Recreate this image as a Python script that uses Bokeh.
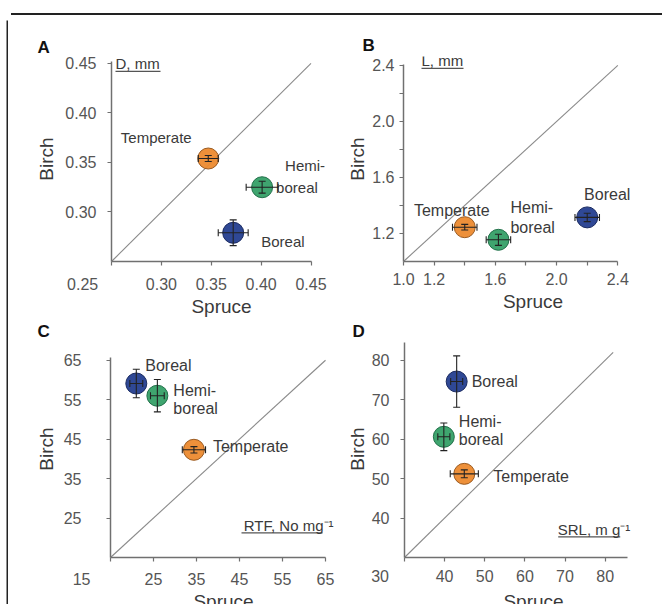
from bokeh.plotting import figure
from bokeh.models import (Range1d, FixedTicker, Label, Whisker, ColumnDataSource,
                          TeeHead, PrintfTickFormatter, Spacer, Div)
from bokeh.layouts import row, column
from bokeh.embed import file_html
from bokeh.resources import INLINE

# ---------------- data ----------------
regions = ["Boreal", "Hemi-boreal", "Temperate"]

# Panel A: root diameter D, mm
a_spruce = [0.372, 0.401, 0.347]
a_spruce_err = [0.015, 0.016, 0.010]
a_birch = [0.279, 0.325, 0.354]
a_birch_err = [0.013, 0.006, 0.003]
a_xticks = [0.25, 0.30, 0.35, 0.40, 0.45]
a_yticks = [0.30, 0.35, 0.40, 0.45]

# Panel B: root length L, mm
b_spruce = [2.20, 1.62, 1.40]
b_spruce_err = [0.08, 0.08, 0.08]
b_birch = [1.315, 1.155, 1.245]
b_birch_err = [0.03, 0.04, 0.02]
b_xticks = [1.0, 1.2, 1.6, 2.0, 2.4]
b_xminor = [1.4, 1.8, 2.2]
b_yticks = [1.2, 1.6, 2.0, 2.4]
b_yminor = [1.4, 1.8, 2.2]

# Panel C: root tip frequency RTF, No mg-1
c_spruce = [21.0, 25.9, 34.4]
c_spruce_err = [1.5, 1.6, 2.7]
c_birch = [59.1, 56.0, 42.3]
c_birch_err = [3.6, 4.1, 0.8]
c_xticks = [15, 25, 35, 45, 55, 65]
c_yticks = [25, 35, 45, 55, 65]

# Panel D: specific root length SRL, m g-1
d_spruce = [43.0, 39.8, 44.9]
d_spruce_err = [1.5, 1.5, 3.5]
d_birch = [74.6, 60.6, 51.2]
d_birch_err = [6.5, 3.5, 1.0]
d_xticks = [30, 40, 50, 60, 70, 80]
d_yticks = [40, 50, 60, 70, 80]

# ---------------- styles ----------------
FONT = "Liberation Sans"
COLORS = {"Boreal": "#243E8F", "Hemi-boreal": "#35A067", "Temperate": "#EC8A2F"}
EDGES = {"Boreal": "#1A2A60", "Hemi-boreal": "#22704A", "Temperate": "#9A5A20"}
NBSP = "\u00a0"


def make_panel(cfg):
    w, h = cfg["size"]
    bl, br, bt, bb = cfg["borders"]
    x0, xa = cfg["xaxis"]          # axis start / end values
    y0, ya = cfg["yaxis"]
    ppx, ppy = cfg["ppu"]          # pixels per data unit
    x1 = x0 + (w - bl - br) / ppx
    y1 = y0 + (h - bt - bb) / ppy
    p = figure(width=w, height=h, x_range=Range1d(x0, x1), y_range=Range1d(y0, y1),
               output_backend="svg", toolbar_location=None, tools="",
               min_border_left=bl, min_border_right=br,
               min_border_top=bt, min_border_bottom=bb)
    p.outline_line_color = None
    p.grid.visible = False
    p.border_fill_color = "white"

    # panel letter as title
    ldx, lso = cfg["letter_pos"]
    p.title.text = cfg["letter"]
    p.title.align = "left"
    p.title.offset = ldx
    p.title.standoff = lso
    p.title.text_font = FONT
    p.title.text_font_size = "17px"
    p.title.text_font_style = "bold"
    p.title.text_color = "#111111"

    for ax, ticks, minor, so, lso2, lab, bnd in (
            (p.xaxis[0], cfg["xticks"], cfg.get("xminor", []), cfg["xso"], cfg["xlso"], "Spruce", (x0, xa)),
            (p.yaxis[0], cfg["yticks"], cfg.get("yminor", []), cfg["yso"], cfg["ylso"], "Birch", (y0, ya))):
        ax.bounds = bnd
        ax.ticker = FixedTicker(ticks=ticks, minor_ticks=minor)
        ax.formatter = PrintfTickFormatter(format=cfg["fmt"])
        ax.axis_line_color = "#707070"
        ax.axis_line_width = 1.5
        ax.major_tick_line_color = "#707070"
        ax.minor_tick_line_color = "#707070"
        ax.major_tick_line_width = 1.2
        ax.minor_tick_line_width = 1.2
        ax.major_tick_in = 0
        ax.major_tick_out = 4
        ax.minor_tick_in = 0
        ax.minor_tick_out = 4
        ax.major_label_standoff = int(so)
        ax.major_label_text_font = FONT
        ax.major_label_text_font_size = "16px"
        ax.major_label_text_color = "#555555"
        ax.axis_label = lab
        ax.axis_label_standoff = int(lso2)
        ax.axis_label_text_font = FONT
        ax.axis_label_text_font_size = "19px"
        ax.axis_label_text_font_style = "normal"
        ax.axis_label_text_color = "#3a3a3a"

    # shared origin label, shifted left of the corner
    if cfg.get("corner"):
        cval, ctext, npad = cfg["corner"]
        p.xaxis[0].major_label_overrides = {cval: ctext + NBSP * npad}

    # 1:1 line
    p.line([x0, cfg["diag"]], [y0, cfg["diag"]], line_color="#8a8a8a", line_width=1.1)

    xs, xe, ys, ye = cfg["data"]
    src = ColumnDataSource(dict(
        x=xs, y=ys,
        xl=[a - b for a, b in zip(xs, xe)], xu=[a + b for a, b in zip(xs, xe)],
        yl=[a - b for a, b in zip(ys, ye)], yu=[a + b for a, b in zip(ys, ye)],
        fill=[COLORS[r] for r in regions], edge=[EDGES[r] for r in regions],
        name=regions))
    p.scatter("x", "y", source=src, size=21, fill_color="fill", line_color="edge",
              line_width=1, fill_alpha=0.95)
    for dim, base, lo, hi in (("width", "y", "xl", "xu"), ("height", "x", "yl", "yu")):
        p.add_layout(Whisker(source=src, base=base, lower=lo, upper=hi, dimension=dim,
                             line_color="#222222", line_width=1.1, level="overlay",
                             upper_head=TeeHead(size=7, line_color="#222222", line_width=1.1),
                             lower_head=TeeHead(size=7, line_color="#222222", line_width=1.1)))

    # category labels
    for i, r in enumerate(regions):
        for text, dx, dy, align in cfg["labels"][r]:
            p.add_layout(Label(x=xs[i], y=ys[i], x_offset=dx, y_offset=dy, text=text,
                               text_align=align, text_baseline="middle",
                               text_font=FONT, text_font_size=cfg["lab_fs"],
                               text_color="#3a3a3a"))

    # variable name, underlined
    ux, uy, utext, udx, udy, ualign, ul0, ul1, uly = cfg["unit"]
    p.add_layout(Label(x=ux, y=uy, x_offset=udx, y_offset=udy, text=utext,
                       text_align=ualign, text_baseline="middle", text_font=FONT,
                       text_font_size="15px", text_color="#3a3a3a"))
    p.segment(x0=[ux + (udx + ul0) / ppx], y0=[uy + (udy + uly) / ppy],
              x1=[ux + (udx + ul1) / ppx], y1=[uy + (udy + uly) / ppy],
              line_color="#555555", line_width=1.3)
    return p


def rule(w, h):
    f = figure(width=w, height=h, toolbar_location=None, tools="", output_backend="svg",
               title=None, min_border=0, x_axis_location=None, y_axis_location=None,
               x_range=Range1d(0, 1), y_range=Range1d(0, 1))
    f.background_fill_color = "#222222"
    f.border_fill_color = "#222222"
    f.outline_line_color = None
    f.grid.visible = False
    return f


pa = make_panel(dict(
    size=(323, 299), borders=(103, 0, 36, 56), xaxis=(0.25, 0.45), yaxis=(0.25, 0.452),
    ppu=(997.5, 1000.0),
    xticks=a_xticks, yticks=a_yticks, fmt="%.2f", xso=10, xlso=0, yso=11, ylso=5,
    diag=0.45, data=(a_spruce, a_spruce_err, a_birch, a_birch_err), lab_fs="15px",
    labels={"Boreal": [("Boreal", 28, -9, "left")],
            "Hemi-boreal": [("Hemi-", 23, 22, "left"), ("boreal", 14, 0, "left")],
            "Temperate": [("Temperate", -52, 21, "center")]},
    letter="A", letter_pos=(-74, 0), corner=(0.25, "0.25", 13),
    unit=(0.25, 0.45, "D, mm", 4, 0, "left", 0, 45, -8)))

pb = make_panel(dict(
    size=(331, 299), borders=(72, 0, 36, 56), xaxis=(1.0, 2.4), yaxis=(1.0, 2.41),
    ppu=(153.1, 141.4),
    xticks=b_xticks, xminor=b_xminor, yticks=b_yticks, yminor=b_yminor, fmt="%.1f",
    xso=7, xlso=3, yso=5, ylso=1, diag=2.4, lab_fs="16px",
    data=(b_spruce, b_spruce_err, b_birch, b_birch_err),
    labels={"Boreal": [("Boreal", 20, 23, "center")],
            "Hemi-boreal": [("Hemi-", 12, 32, "left"), ("boreal", 12, 12, "left")],
            "Temperate": [("Temperate", -13, 17, "center")]},
    letter="B", letter_pos=(-41, 4), corner=None,
    unit=(1.0, 2.4, "L, mm", 18, 5, "left", 0, 42, -8)))

pc = make_panel(dict(
    size=(328, 295), borders=(102, 0, 20, 55), xaxis=(15, 65), yaxis=(15, 65.6),
    ppu=(4.3, 4.0),
    xticks=c_xticks, yticks=c_yticks, fmt="%d", xso=9, xlso=0, yso=25, ylso=4,
    diag=65, data=(c_spruce, c_spruce_err, c_birch, c_birch_err), lab_fs="16px",
    labels={"Boreal": [("Boreal", 9, 18, "left")],
            "Hemi-boreal": [("Hemi-", 16, 5, "left"), ("boreal", 16, -13, "left")],
            "Temperate": [("Temperate", 19, 3, "left")]},
    letter="C", letter_pos=(-73, 0), corner=(15, "15", 13),
    unit=(65, 15, "RTF, No mg\u207b\u00b9", 8, 32, "right", -92, -11, -7)))

pd_ = make_panel(dict(
    size=(326, 295), borders=(68, 0, 20, 55), xaxis=(30, 85.5), yaxis=(30, 84.5),
    ppu=(4.013, 4.0),
    xticks=d_xticks, yticks=d_yticks, fmt="%d", xso=6, xlso=3, yso=11, ylso=1,
    diag=82, data=(d_spruce, d_spruce_err, d_birch, d_birch_err), lab_fs="16px",
    labels={"Boreal": [("Boreal", 15, 0, "left")],
            "Hemi-boreal": [("Hemi-", 15, 15, "left"), ("boreal", 15, -3, "left")],
            "Temperate": [("Temperate", 29, -3, "left")]},
    letter="D", letter_pos=(-52, 0), corner=(30, "30", 11),
    unit=(85.5, 30, "SRL, m g\u207b\u00b9", 3, 28, "right", -72, -10, -7)))

# top frame line as a plain styled HTML element
top_line = Div(text='<div style="position:absolute;left:6px;top:8px;width:656px;'
                    'height:2px;background:#222222;"></div>',
               width=662, height=10)

layout = column(
    top_line,
    row(Spacer(width=6, height=594),
        rule(2, 594),
        column(row(pa, pb), row(pc, pd_))))

open("out.html", "w").write(file_html(layout, INLINE))
